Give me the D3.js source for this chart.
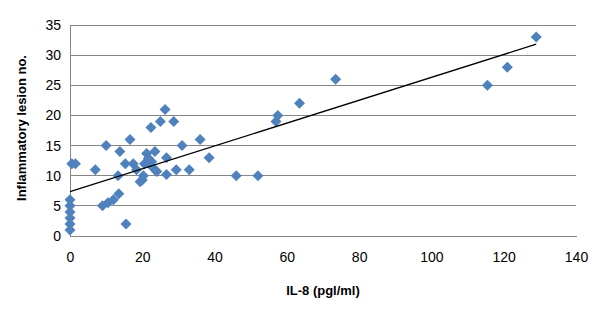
<!DOCTYPE html>
<html>
<head>
<meta charset="utf-8">
<script src="https://cdn.jsdelivr.net/npm/d3@7"></script>
<style>
body { margin: 0; background: #fff; }
text { font-family: "Liberation Sans", Arial, sans-serif; }
</style>
</head>
<body>
<script>
const width = 600, height = 311;

// IL-8 (pg/ml) vs inflammatory lesion count
const il8 = [0, 0, 0, 0, 0, 0, 0.5, 1.5, 7, 10, 9, 10.5, 12, 13.5, 13.3, 13.8, 15.5, 15.3, 16.6, 17.5,
    18.4, 19.4, 20, 20.3, 20.6, 21.2, 21.7, 22, 22.4, 22.6, 23.5, 23.5, 24, 25, 26.3, 26.7, 26.7, 28.7,
    29.4, 31, 33, 36, 38.5, 46, 52, 57, 57.5, 63.5, 73.5, 115.5, 121, 129];
const lesions = [1, 2, 3, 4, 5, 6, 12, 12, 11, 15, 5, 5.5, 6, 7, 10, 14, 2, 12, 16, 12,
    11, 9, 9.3, 10, 12, 13.7, 12.9, 11.9, 18, 12.3, 14, 11, 10.7, 19, 21, 13, 10.2, 19,
    11, 15, 11, 16, 13, 10, 10, 19, 20, 22, 26, 25, 28, 33];
const xTicks = [0, 20, 40, 60, 80, 100, 120, 140];
const yTicks = [0, 5, 10, 15, 20, 25, 30, 35];

const points = il8.map((v, i) => ({x: v, y: lesions[i]}));

const x = d3.scaleLinear().domain([0, 140]).range([70, 576]);
const y = d3.scaleLinear().domain([0, 35]).range([236, 25]);

const svg = d3.select("body").append("svg").attr("width", width).attr("height", height);

// gridlines
svg.append("g").selectAll("line").data(yTicks.slice(1)).enter().append("line")
    .attr("x1", x(0)).attr("x2", x(140))
    .attr("y1", (d) => y(d)).attr("y2", (d) => y(d))
    .attr("stroke", "#868686").attr("stroke-width", 1).attr("shape-rendering", "crispEdges");

const yAxis = svg.append("g").attr("transform", `translate(${x(0)},0)`)
    .call(d3.axisLeft(y).tickValues(yTicks).tickSize(0).tickPadding(9));
const xAxis = svg.append("g").attr("transform", `translate(0,${y(0)})`)
    .call(d3.axisBottom(x).tickValues(xTicks).tickSize(0).tickPadding(16));
[xAxis, yAxis].forEach((a) => {
    a.select(".domain").attr("stroke", "#868686").attr("shape-rendering", "crispEdges");
    a.selectAll("text").attr("font-size", 14).attr("fill", "#000")
        .attr("font-family", "'Liberation Sans', Arial, sans-serif");
});

// linear trend line (least squares)
const mx = d3.mean(points, (d) => d.x), my = d3.mean(points, (d) => d.y);
const slope = d3.sum(points, (d) => (d.x - mx) * (d.y - my)) / d3.sum(points, (d) => (d.x - mx) ** 2);
const icpt = my - slope * mx;
const xMax = d3.max(points, (d) => d.x);

svg.selectAll("path.pt").data(points).enter().append("path")
    .attr("class", "pt")
    .attr("d", "M0,-5.5L5.5,0L0,5.5L-5.5,0Z")
    .attr("transform", (d) => `translate(${x(d.x)},${y(d.y)})`)
    .attr("fill", "#4F81BD");

svg.append("line")
    .attr("x1", x(0)).attr("y1", y(icpt))
    .attr("x2", x(xMax)).attr("y2", y(icpt + slope * xMax))
    .attr("stroke", "#000").attr("stroke-width", 1.3);

svg.append("text").attr("x", 323).attr("y", 295).attr("text-anchor", "middle")
    .attr("font-size", 13).attr("font-weight", "bold").text("IL-8 (pgl/ml)");
svg.append("text").attr("transform", "translate(26,128) rotate(-90)").attr("text-anchor", "middle")
    .attr("font-size", 13).attr("font-weight", "bold").text("Inflammatory lesion no.");
</script>
</body>
</html>
